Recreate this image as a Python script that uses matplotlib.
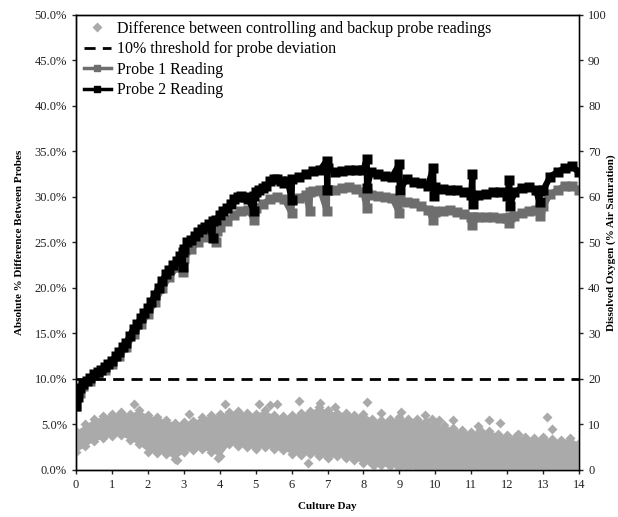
import matplotlib
matplotlib.use('Agg')
import matplotlib.pyplot as plt
from matplotlib.ticker import FuncFormatter

plt.rcParams['font.family'] = ['Liberation Serif', 'DejaVu Serif']

# difference between probes (left axis, %), band envelope
band_days = [0, 0.25, 0.5, 0.75, 1, 1.25, 1.5, 1.75, 2, 2.25, 2.5, 2.75, 3, 3.25, 3.5, 3.75,
             4, 4.25, 4.5, 4.75, 5, 5.25, 5.5, 5.75, 6, 6.25, 6.5, 6.75, 7, 7.25, 7.5, 7.75,
             8, 8.25, 8.5, 8.75, 9, 9.25, 9.5, 9.75, 10, 10.25, 10.5, 10.75, 11, 11.25, 11.5,
             11.75, 12, 12.25, 12.5, 12.75, 13, 13.25, 13.5, 13.75, 14]
band_top = [4.3, 5.0, 5.6, 5.9, 6.2, 6.4, 6.2, 6.6, 6.0, 5.8, 5.5, 5.2, 5.3, 5.4, 5.8, 6.0,
            6.1, 6.4, 6.5, 6.3, 6.2, 6.6, 6.0, 5.9, 6.0, 6.3, 6.5, 6.9, 6.6, 6.3, 6.3, 6.0,
            6.2, 5.6, 5.5, 5.6, 5.8, 5.6, 5.6, 5.4, 5.0, 4.9, 4.6, 4.4, 4.2, 4.4, 4.3,
            4.0, 3.8, 3.7, 3.6, 3.5, 3.6, 3.4, 3.3, 3.5, 3.0]
band_bottom = [2.0, 2.6, 3.2, 3.5, 3.7, 3.8, 3.3, 2.8, 2.0, 1.9, 1.8, 1.2, 2.0, 2.2, 2.3, 2.0,
               1.5, 2.8, 2.6, 2.5, 2.3, 2.5, 2.3, 2.2, 1.8, 1.6, 1.8, 1.5, 1.3, 1.5, 1.3, 1.1,
               0.8, 0.6, 0.5, 0.4, 0.2, 0.2, 0.2, 0.1, 0.1, 0.05, 0.0, 0.0, 0.0, 0.0, 0.0,
               0.0, 0.0, 0.0, 0.0, 0.0, 0.0, 0.0, 0.0, 0.0, 0.0]
out_days = [1.6, 3.15, 4.15, 5.1, 5.4, 5.6, 6.2, 6.8, 7.2, 8.1, 8.5, 9.05, 9.7, 9.9, 10.1,
            10.5, 11.2, 11.5, 11.8, 12.3, 13.1, 13.25, 3.95, 6.45, 8.3, 2.8]
out_diff = [7.2, 6.2, 7.3, 7.2, 7.1, 7.2, 7.6, 7.4, 6.9, 7.5, 6.3, 6.4, 6.0, 5.6, 5.5,
            5.5, 4.8, 5.5, 5.2, 3.9, 5.8, 4.5, 1.3, 0.8, 0.5, 1.1]

# probe readings (right axis)
p1_days = [0.0, 0.1, 0.2, 0.4, 0.6, 0.8, 1.0, 1.2, 1.4, 1.6, 1.8, 2.0, 2.2, 2.4, 2.6, 2.8,
           2.97, 2.98, 3.0, 3.2, 3.4, 3.6, 3.8, 3.9, 3.91, 4.0, 4.2, 4.4, 4.6, 4.8, 4.95, 4.96,
           5.0, 5.2, 5.4, 5.6, 5.8, 6.0, 6.01, 6.2, 6.4, 6.5, 6.51, 6.6, 6.8, 6.98, 6.99, 7.0,
           7.2, 7.4, 7.6, 7.8, 8.0, 8.09, 8.1, 8.2, 8.4, 8.6, 8.8, 9.0, 9.01, 9.2, 9.4, 9.6,
           9.8, 9.94, 9.95, 10.0, 10.2, 10.4, 10.6, 10.8, 11.0, 11.03, 11.04, 11.2, 11.4, 11.6,
           11.8, 12.0, 12.06, 12.07, 12.2, 12.4, 12.6, 12.8, 12.9, 12.91, 13.0, 13.2, 13.4,
           13.6, 13.8, 14.0]
p1_vals = [14, 17, 18.5, 19.5, 20.8, 22, 23.2, 25, 27, 29.8, 32, 34.3, 37, 40, 42.5, 44.5,
           43.5, 46, 46.5, 48.5, 50.2, 51.2, 52.3, 50, 52.6, 53.5, 54.8, 56, 57, 57.2, 55, 57.4,
           57.5, 58.5, 59.5, 60, 59.5, 56.5, 59.5, 59.8, 60.5, 57, 61, 61.3, 61.5, 57, 61.5, 61.5,
           61.5, 62, 62.2, 61.8, 61, 57.5, 60.8, 60.4, 60.2, 60, 59.8, 56.5, 59.3, 59, 58.6, 58,
           57.2, 55, 56.9, 56.8, 57, 57.1, 56.8, 56.2, 55.6, 53.8, 55.6, 55.6, 55.6, 55.5,
           55.4, 55.3, 54.2, 55.5, 55.8, 56.4, 57, 57.1, 55.8, 57.5, 58, 60.7, 61.5,
           62.5, 62.5, 61.5]
p2_days = [0.0, 0.05, 0.1, 0.2, 0.3, 0.4, 0.5, 0.6, 0.7, 0.8, 0.9, 1.0, 1.1, 1.2, 1.3, 1.4,
           1.5, 1.6, 1.7, 1.8, 1.9, 2.0, 2.1, 2.2, 2.3, 2.4, 2.5, 2.6, 2.7, 2.8, 2.9, 2.97,
           2.98, 3.0, 3.1, 3.2, 3.3, 3.4, 3.5, 3.6, 3.7, 3.8, 3.81, 3.9, 4.0, 4.1, 4.2, 4.3,
           4.4, 4.5, 4.6, 4.7, 4.8, 4.95, 4.96, 5.0, 5.1, 5.2, 5.3, 5.4, 5.5, 5.6, 5.7, 5.8,
           5.9, 6.0, 6.01, 6.2, 6.4, 6.6, 6.8, 6.98, 6.99, 7.0, 7.2, 7.4, 7.6, 7.8, 8.0, 8.09,
           8.1, 8.2, 8.4, 8.6, 8.8, 9.0, 9.01, 9.2, 9.4, 9.6, 9.8, 9.94, 9.95, 10.0, 10.2,
           10.4, 10.6, 10.8, 11.0, 11.03, 11.04, 11.2, 11.4, 11.6, 11.8, 12.0, 12.06, 12.07,
           12.2, 12.4, 12.6, 12.8, 12.9, 12.91, 13.0, 13.2, 13.4, 13.6, 13.8, 14.0]
p2_vals = [14, 16, 18, 19, 19.5, 20.3, 21, 21.5, 22, 22.7, 23.3, 24, 25, 26, 27, 28,
           29.5, 31, 32, 33.3, 34.5, 35.5, 37, 38.5, 40, 41.5, 43, 44, 45, 46, 47, 44.7,
           48, 48.5, 50, 50.5, 51.5, 52.3, 53, 53.5, 54, 51, 54.8, 55, 56, 57, 57.5, 58.5,
           59.5, 60, 60.3, 60, 59.5, 57, 60.3, 61, 61.5, 62, 62.5, 63.5, 64, 64, 63.5, 63,
           63.5, 59.4, 64, 64.3, 65, 65.8, 66, 68, 61.5, 66.3, 65.5, 65.8, 66, 66, 66, 68.3,
           62, 65.5, 65, 64.6, 64.5, 67.2, 61.6, 64, 63.3, 63, 62.5, 66.4, 60.3, 62.2, 61.8,
           61.6, 61.5, 61, 60.4, 65, 58.5, 60.5, 60.6, 61, 61, 60.2, 63.7, 58, 61,
           62, 62.3, 61.5, 59, 61.3, 61.5, 64.5, 65.5, 66.3, 66.8, 65.4]

threshold = 10.0

fig = plt.figure(figsize=(6.18, 5.17), dpi=100)
ax = fig.add_axes([0.123, 0.091, 0.814, 0.88])
ax2 = ax.twinx()
ax.set_zorder(ax2.get_zorder() + 1)
ax.patch.set_visible(False)

diff_col = '#aaaaaa'
ax.fill_between(band_days, band_bottom, band_top, color=diff_col, lw=0, zorder=1)
ax.plot(band_days, band_top, 'D', color=diff_col, ms=5, mec='none', zorder=1)
ax.plot(band_days, band_bottom, 'D', color=diff_col, ms=5, mec='none', zorder=1)
ax.plot(out_days, out_diff, 'D', color=diff_col, ms=5, mec='none', zorder=1,
        label='Difference between controlling and backup probe readings')
ax.axhline(threshold, color='black', lw=2, ls=(0, (4, 2.6)), zorder=2,
           label='10% threshold for probe deviation')

ax2.plot(p1_days, p1_vals, color='#6e6e6e', lw=4.5, marker='s', ms=6.5, mec='none', zorder=3)
ax2.plot(p2_days, p2_vals, color='black', lw=4.5, marker='s', ms=6.5, mec='none', zorder=4)
# legend proxies
ax.plot([], [], color='#6e6e6e', lw=2.5, marker='s', ms=4, label='Probe 1 Reading')
ax.plot([], [], color='black', lw=2.5, marker='s', ms=4, label='Probe 2 Reading')

ax.set_xlim(0, 14)
ax.set_ylim(0, 50)
ax2.set_ylim(0, 100)
ax.set_xticks(range(0, 15))
ax.set_yticks([i * 5 for i in range(11)])
ax2.set_yticks(range(0, 101, 10))
ax.yaxis.set_major_formatter(FuncFormatter(lambda v, p: '%.1f%%' % v))

for a in (ax, ax2):
    a.tick_params(labelsize=9, length=3, width=1, direction='out', colors='#222222')
    for s in a.spines.values():
        s.set_linewidth(1)
ax2.spines['right'].set_color('#555555')

ax.set_xlabel('Culture Day', fontsize=8, fontweight='bold', labelpad=8)
ax.set_ylabel('Absolute % Difference Between Probes', fontsize=8, fontweight='bold', labelpad=8)
fig.text(0.982, 0.53, 'Dissolved Oxygen (% Air Saturation)', rotation=90, ha='left',
         va='center', fontsize=8, fontweight='bold')

leg = ax.legend(loc='upper left', bbox_to_anchor=(-0.004, 1.008), frameon=False, fontsize=11.5,
                handlelength=1.7, handletextpad=0.4, labelspacing=0.28, borderaxespad=0.2)

fig.savefig('out.png', dpi=100)
